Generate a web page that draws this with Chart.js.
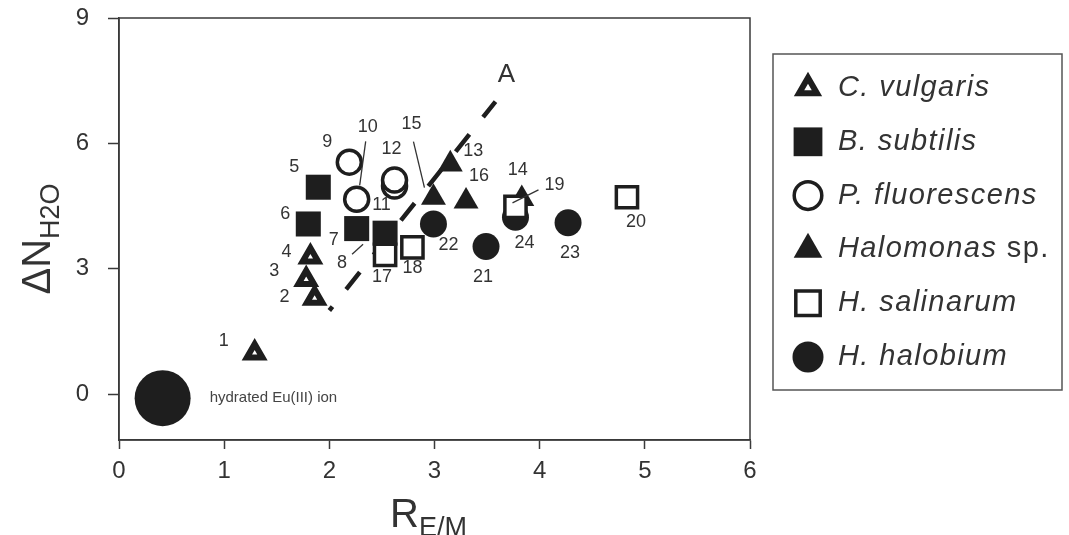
<!DOCTYPE html>
<html>
<head>
<meta charset="utf-8">
<script src="https://cdn.jsdelivr.net/npm/chart.js@4.4.1/dist/chart.umd.min.js"></script>
<style>
  html, body { margin: 0; padding: 0; background: #fff; }
</style>
</head>
<body>
<canvas id="myChart" width="1069" height="535"></canvas>
<script>
// R_E/M (x) and delta N_H2O (y) per organism, ids = point numbers in the figure
const cVulgarisX = [1.29, 1.86, 1.78, 1.82];
const cVulgarisY = [0.98, 2.29, 2.74, 3.28];
const cVulgarisIds = [1, 2, 3, 4];

const bSubtilisX = [1.895, 1.80, 2.26, 2.53];
const bSubtilisY = [4.95, 4.07, 3.96, 3.85];
const bSubtilisIds = [5, 6, 7, 8];

const pFluorescensX = [2.19, 2.26, 2.62, 2.62];
const pFluorescensY = [5.55, 4.66, 4.98, 5.12];
const pFluorescensIds = [9, 10, 11, 12];

const halomonasX = [3.15, 3.83, 2.99, 3.30];
const halomonasY = [5.50, 4.67, 4.70, 4.61];
const halomonasIds = [13, 14, 15, 16];

const hSalinarumX = [2.53, 2.79, 3.77, 4.83];
const hSalinarumY = [3.33, 3.51, 4.48, 4.71];
const hSalinarumIds = [17, 18, 19, 20];

const hHalobiumX = [3.49, 2.99, 4.27, 3.77];
const hHalobiumY = [3.53, 4.07, 4.10, 4.23];
const hHalobiumIds = [21, 22, 23, 24];

// reference line "A" and the hydrated ion
const lineAX = [2.0, 3.58];
const lineAY = [2.0, 7.0];
const euIonX = [0.415];
const euIonY = [-0.1];

const xTicks = [0, 1, 2, 3, 4, 5, 6];
const yTicks = [0, 3, 6, 9];

const FONT = "'Liberation Sans', Arial, Helvetica, sans-serif";
const INK = "#1e1e1e";
const AXIS = "#3a3a3a";
const TEXT = "#333";

function pts(xs, ys) {
  return xs.map((x, i) => ({ x: x, y: ys[i] }));
}

// pixel offsets of the number labels from their points (+ optional leader lines)
const labelPos = {
  1: [-31, -12], 2: [-30, -1], 3: [-32, -9], 4: [-24, -5],
  5: [-24, -20], 6: [-23, -10], 7: [-23, 11], 8: [-43, 30],
  9: [-22, -20], 10: [11, -72], 11: [-13, 19], 12: [-3, -31],
  13: [23, -13], 14: [-4, -29], 15: [-22, -74], 16: [13, -25],
  17: [-3, 22], 18: [0, 21], 19: [39, -22], 20: [9, 25],
  21: [-3, 30], 22: [15, 21], 23: [2, 30], 24: [9, 26],
};
const leaders = {
  8: [-33, 21, -22, 11],
  10: [9, -58, 3, -14],
  15: [-20, -56, -9, -10],
  19: [23, -17, -3, -4],
};

const ctx = document.getElementById("myChart").getContext("2d");

const annotations = {
  id: "annotations",
  afterDatasetsDraw(chart) {
    const c = chart.ctx;
    const xs = chart.scales.x;
    const ys = chart.scales.y;
    const area = chart.chartArea;
    c.save();

    // box around the plot
    c.strokeStyle = AXIS;
    c.lineWidth = 1.5;
    c.strokeRect(area.left, area.top, area.right - area.left, area.bottom - area.top);

    // point numbers
    c.fillStyle = TEXT;
    c.strokeStyle = TEXT;
    c.lineWidth = 1.3;
    c.font = "18px " + FONT;
    c.textAlign = "center";
    c.textBaseline = "middle";
    chart.data.datasets.forEach((ds) => {
      if (!ds.ids) return;
      ds.data.forEach((p, i) => {
        const id = ds.ids[i];
        const px = xs.getPixelForValue(p.x);
        const py = ys.getPixelForValue(p.y);
        const off = labelPos[id];
        c.fillText(String(id), px + off[0], py + off[1]);
        const l = leaders[id];
        if (l) {
          c.beginPath();
          c.moveTo(px + l[0], py + l[1]);
          c.lineTo(px + l[2], py + l[3]);
          c.stroke();
        }
      });
    });

    // "A" at the end of the dashed line
    const ax = xs.getPixelForValue(lineAX[1]);
    const ay = ys.getPixelForValue(lineAY[1]);
    c.font = "26px " + FONT;
    c.fillText("A", ax + 11, ay - 27);

    // hydrated ion label
    const ex = xs.getPixelForValue(euIonX[0]);
    const ey = ys.getPixelForValue(euIonY[0]);
    c.font = "15px " + FONT;
    c.textAlign = "left";
    c.fillStyle = "#444";
    c.fillText("hydrated Eu(III) ion", ex + 47, ey);

    // axis titles with subscripts
    c.fillStyle = TEXT;
    c.textBaseline = "alphabetic";
    const drawSub = (main, sub, cx, base) => {
      c.font = "40px " + FONT;
      const w1 = c.measureText(main).width;
      c.font = "27px " + FONT;
      const w2 = c.measureText(sub).width;
      let x0 = cx - (w1 + w2) / 2;
      c.font = "40px " + FONT;
      c.fillText(main, x0, base);
      c.font = "27px " + FONT;
      c.fillText(sub, x0 + w1, base + 9);
    };
    c.textAlign = "left";
    drawSub("R", "E/M", (area.left + area.right) / 2 - 6, 527);
    c.save();
    c.translate(50, (area.top + area.bottom) / 2 + 10);
    c.rotate(-Math.PI / 2);
    drawSub("\u0394N", "H2O", 0, 0);
    c.restore();

    // legend box
    const lx = 773, ly = 54, lw = 289, lh = 336;
    c.strokeStyle = "#555";
    c.lineWidth = 1.5;
    c.strokeRect(lx, ly, lw, lh);
    chart.data.datasets.forEach((ds) => {
      if (!ds.legendName) return;
      const y = 88 + ds.legendRow * 53.8;
      c.fillStyle = ds.backgroundColor;
      c.strokeStyle = ds.borderColor;
      c.lineWidth = ds.borderWidth;
      Chart.helpers.drawPoint(c, {
        pointStyle: ds.pointStyle,
        radius: ds.pointRadius * 1.15,
        rotation: 0,
        borderWidth: ds.borderWidth,
      }, 808, y);
      c.fillStyle = TEXT;
      c.textAlign = "left";
      c.textBaseline = "middle";
      c.letterSpacing = "1.4px";
      c.font = "italic 29px " + FONT;
      c.fillText(ds.legendName, 838, y);
      if (ds.legendSuffix) {
        const w = c.measureText(ds.legendName).width;
        c.font = "29px " + FONT;
        c.fillText(ds.legendSuffix, 838 + w, y);
      }
      c.letterSpacing = "0px";
    });
    c.restore();
  },
};

new Chart(ctx, {
  type: "scatter",
  data: {
    datasets: [
      {
        label: "A",
        type: "line",
        data: pts(lineAX, lineAY),
        borderColor: INK,
        borderWidth: 4.5,
        borderDash: [22, 22],
        borderDashOffset: 17,
        pointRadius: 0,
        fill: false,
        order: 10,
      },
      {
        label: "hydrated Eu(III) ion",
        data: pts(euIonX, euIonY),
        pointStyle: "circle",
        pointRadius: 28,
        backgroundColor: INK,
        borderColor: INK,
        borderWidth: 0,
        order: 9,
      },
      {
        label: "C. vulgaris",
        legendName: "C. vulgaris",
        legendRow: 0,
        ids: cVulgarisIds,
        data: pts(cVulgarisX, cVulgarisY),
        pointStyle: "triangle",
        pointRadius: 9,
        borderWidth: 6,
        backgroundColor: "#fff",
        borderColor: INK,
        order: 6,
      },
      {
        label: "B. subtilis",
        legendName: "B. subtilis",
        legendRow: 1,
        ids: bSubtilisIds,
        data: pts(bSubtilisX, bSubtilisY),
        pointStyle: "rect",
        pointRadius: 17.7,
        borderWidth: 0,
        backgroundColor: INK,
        borderColor: INK,
        order: 5,
      },
      {
        label: "P. fluorescens",
        legendName: "P. fluorescens",
        legendRow: 2,
        ids: pFluorescensIds,
        data: pts(pFluorescensX, pFluorescensY),
        pointStyle: "circle",
        pointRadius: 12,
        borderWidth: 3.5,
        backgroundColor: "#fff",
        borderColor: INK,
        order: 4,
      },
      {
        label: "Halomonas sp.",
        legendName: "Halomonas",
        legendSuffix: " sp.",
        legendRow: 3,
        ids: halomonasIds,
        data: pts(halomonasX, halomonasY),
        pointStyle: "triangle",
        pointRadius: 14.4,
        borderWidth: 0,
        backgroundColor: INK,
        borderColor: INK,
        order: 3,
      },
      {
        label: "H. halobium",
        legendName: "H. halobium",
        legendRow: 5,
        ids: hHalobiumIds,
        data: pts(hHalobiumX, hHalobiumY),
        pointStyle: "circle",
        pointRadius: 13.5,
        borderWidth: 0,
        backgroundColor: INK,
        borderColor: INK,
        order: 2,
      },
      {
        label: "H. salinarum",
        legendName: "H. salinarum",
        legendRow: 4,
        ids: hSalinarumIds,
        data: pts(hSalinarumX, hSalinarumY),
        pointStyle: "rect",
        pointRadius: 15,
        borderWidth: 3.5,
        backgroundColor: "#fff",
        borderColor: INK,
        order: 1,
      },
    ],
  },
  options: {
    responsive: false,
    animation: false,
    devicePixelRatio: 1,
    events: [],
    layout: {
      autoPadding: false,
      padding: { left: 0, right: 319, top: 18, bottom: 0 },
    },
    scales: {
      x: {
        type: "linear",
        min: 0,
        max: 6,
        afterBuildTicks: (scale) => {
          scale.ticks = xTicks.map((v) => ({ value: v }));
        },
        afterFit: (scale) => {
          scale.height = 95;
        },
        grid: {
          drawOnChartArea: false,
          drawTicks: true,
          tickLength: 9,
          tickWidth: 1.5,
          tickColor: AXIS,
        },
        border: { display: true, color: AXIS, width: 1.5 },
        ticks: {
          color: TEXT,
          padding: 8,
          maxRotation: 0,
          font: { family: FONT, size: 24 },
        },
      },
      y: {
        type: "linear",
        min: -1.1,
        max: 9,
        afterBuildTicks: (scale) => {
          scale.ticks = yTicks.map((v) => ({ value: v }));
        },
        afterFit: (scale) => {
          scale.width = 119;
          scale.paddingTop = 0;
          scale.paddingBottom = 0;
        },
        grid: {
          drawOnChartArea: false,
          drawTicks: true,
          tickLength: 11,
          tickWidth: 1.5,
          tickColor: AXIS,
        },
        border: { display: true, color: AXIS, width: 1.5 },
        ticks: {
          color: TEXT,
          padding: 19,
          font: { family: FONT, size: 24 },
        },
      },
    },
    plugins: {
      legend: { display: false },
      tooltip: { enabled: false },
    },
  },
  plugins: [annotations],
});
</script>
</body>
</html>
